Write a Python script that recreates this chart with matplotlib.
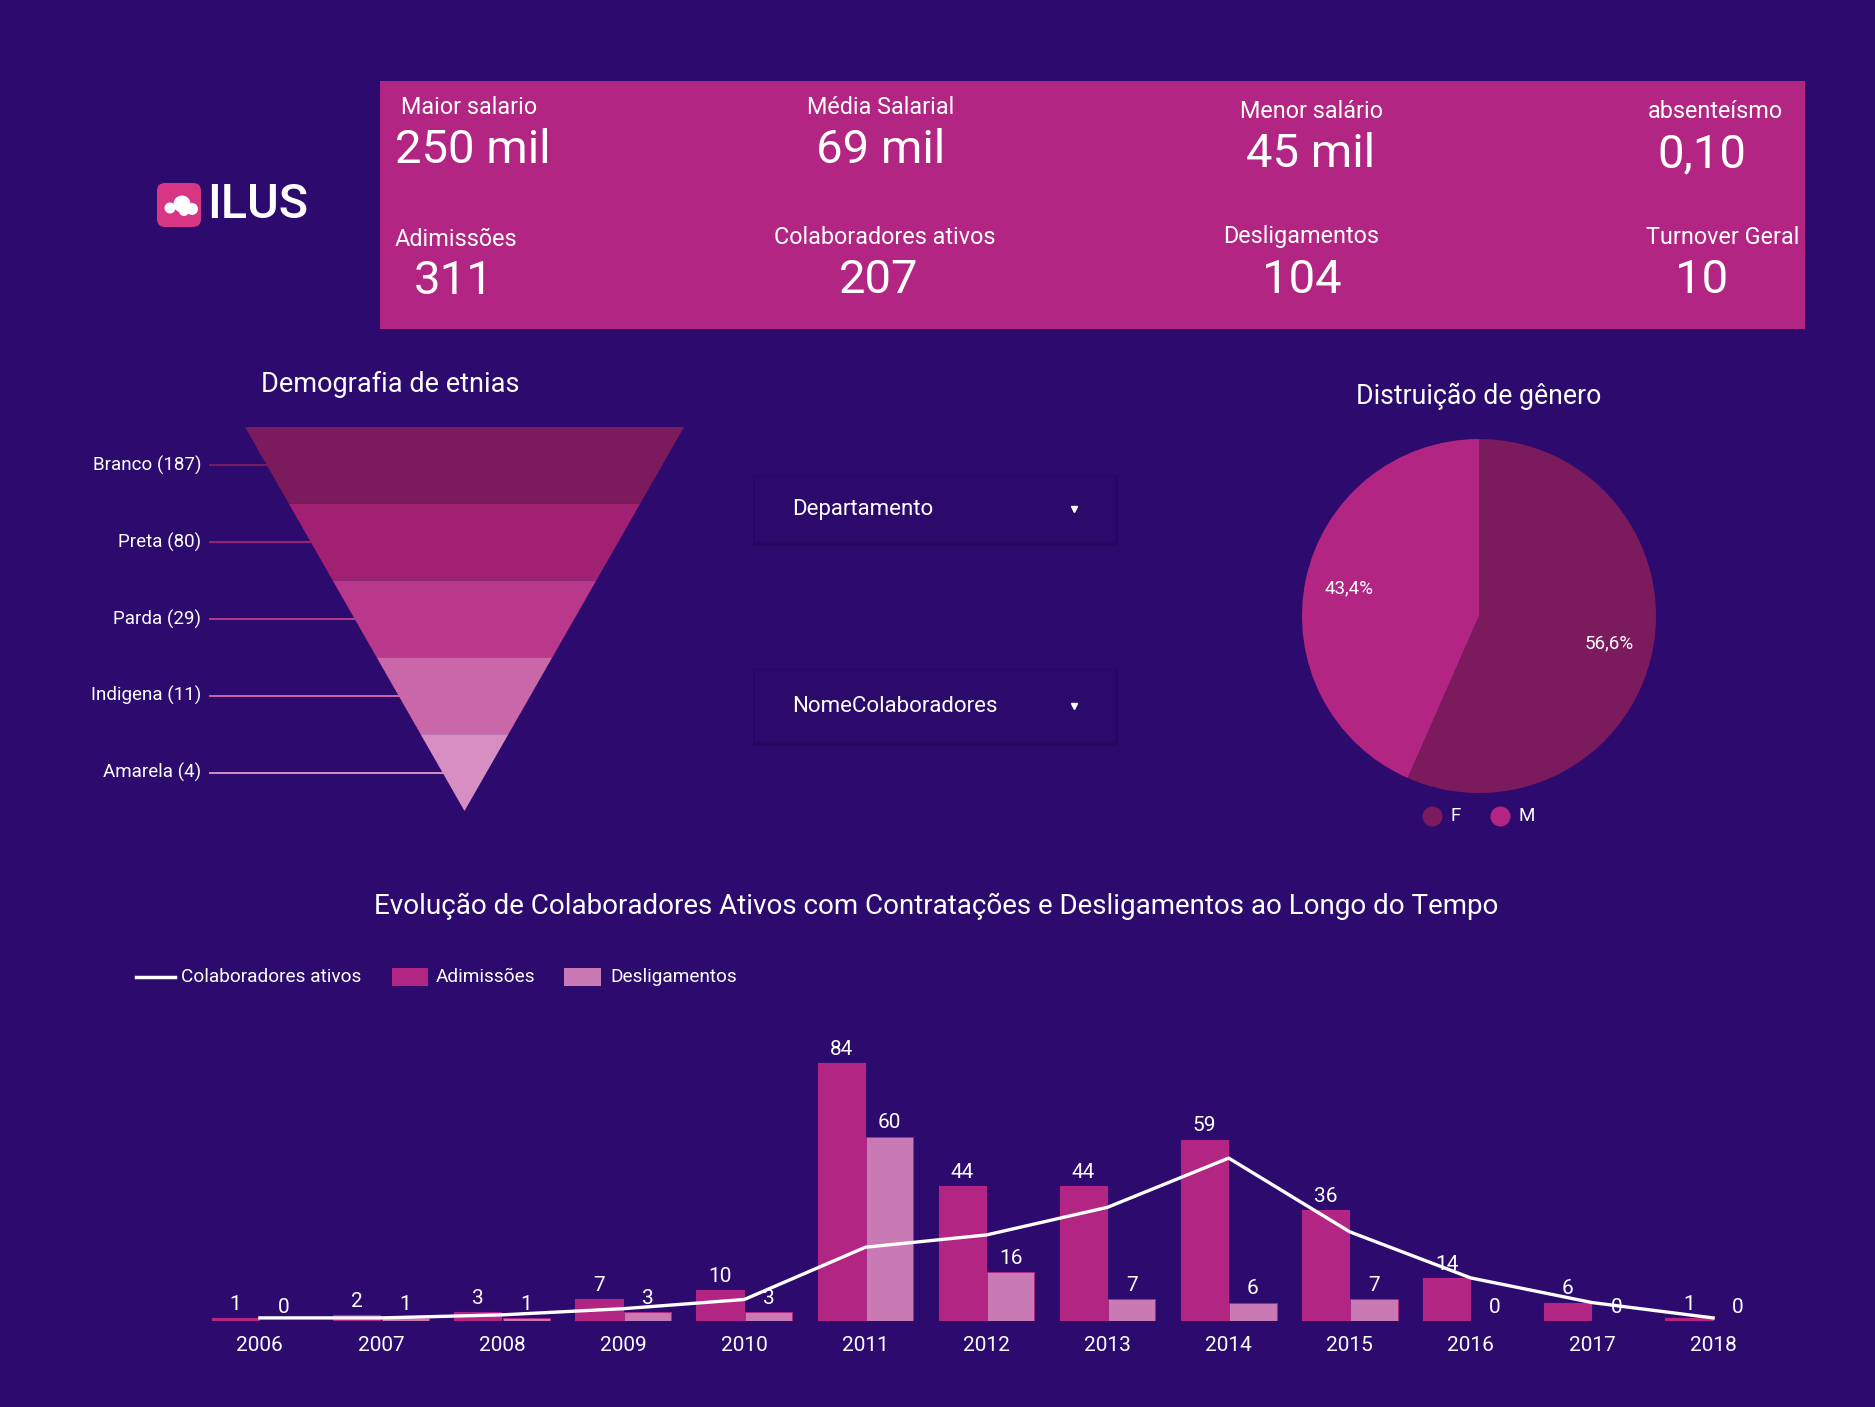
import matplotlib

matplotlib.use("Agg")
import matplotlib.pyplot as plt
from matplotlib.patches import FancyBboxPatch, Rectangle, Polygon, Circle

plt.rcParams["font.family"] = ["Roboto", "DejaVu Sans"]

W, H = 1875, 1407
BG = "#2d0b6e"
KPI_BG = "#b22582"
WHITE = "#ffffff"

# KPI cards
kpi_labels = ["Maior salario", "Média Salarial", "Menor salário", "absenteísmo",
              "Adimissões", "Colaboradores ativos", "Desligamentos", "Turnover Geral"]
kpi_values = ["250 mil", "69 mil", "45 mil", "0,10", "311", "207", "104", "10"]

# ethnic funnel
etnias = ["Branco", "Preta", "Parda", "Indigena", "Amarela"]
etnias_n = [187, 80, 29, 11, 4]
funnel_colors = ["#7b1a5c", "#a02072", "#b8388c", "#c967a8", "#d68ec3"]

# gender pie
generos = ["F", "M"]
genero_pct = [56.6, 43.4]
pie_colors = ["#7b1a5c", "#b32583"]

# filters
filtros = ["Departamento", "NomeColaboradores"]

# yearly evolution
anos = [2006, 2007, 2008, 2009, 2010, 2011, 2012, 2013, 2014, 2015, 2016, 2017, 2018]
admissoes = [1, 2, 3, 7, 10, 84, 44, 44, 59, 36, 14, 6, 1]
desligamentos = [0, 1, 1, 3, 3, 60, 16, 7, 6, 7, 0, 0, 0]
ativos = [1, 1, 2, 4, 7, 24, 28, 37, 53, 29, 14, 6, 1]
ADM_C = "#b32583"
DES_C = "#c97ab5"


def rect(x0, y0, x1, y1):
    """pixel box (top-left origin) -> figure fraction rect"""
    return [x0 / W, 1 - y1 / H, (x1 - x0) / W, (y1 - y0) / H]


fig = plt.figure(figsize=(W / 100, H / 100), dpi=100, facecolor=BG)
ax0 = fig.add_axes([0, 0, 1, 1])
ax0.set_xlim(0, W)
ax0.set_ylim(H, 0)
ax0.axis("off")
ax0.set_facecolor(BG)

# logo
ax0.add_patch(FancyBboxPatch((157, 183), 44, 44, boxstyle="round,pad=0,rounding_size=8",
                             fc="#d83584", ec="none"))
for cx, cy, r in [(170, 208, 5.5), (182, 204, 8.5), (192, 209, 6), (184, 211, 5)]:
    ax0.add_patch(Circle((cx, cy), r, fc=WHITE, ec="none"))
ax0.text(207, 205, "ILUS", color=WHITE, fontsize=35, fontweight="medium", va="center",
         ha="left")

# KPI panel
ax0.add_patch(Rectangle((380, 81), 1425, 248, fc=KPI_BG, ec="none"))
label_pos = [(401, 108, "left"), (881, 108, "center"), (1311, 112, "center"),
             (1715, 112, "center"), (395, 239, "left"), (885, 237, "center"),
             (1301, 237, "center"), (1723, 237, "center")]
value_pos = [(395, 150, "left"), (881, 150, "center"), (1311, 154, "center"),
             (1702, 154, "center"), (454, 281, "center"), (879, 280, "center"),
             (1302, 280, "center"), (1702, 280, "center")]
for lab, val, (lx, ly, lha), (vx, vy, vha) in zip(kpi_labels, kpi_values, label_pos,
                                                  value_pos):
    ax0.text(lx, ly, lab, color=WHITE, fontsize=16.8, ha=lha, va="center")
    ax0.text(vx, vy, val, color=WHITE, fontsize=34, ha=vha, va="center")

# funnel
ax0.text(390, 384, "Demografia de etnias", color=WHITE, fontsize=19.5, ha="center",
         va="center")
axf = fig.add_axes(rect(245, 427, 684, 811))
axf.set_xlim(-1, 1)
axf.set_ylim(len(etnias), 0)
axf.axis("off")
n = len(etnias)
for i, (name, cnt, col) in enumerate(zip(etnias, etnias_n, funnel_colors)):
    top, bot = 1 - i / n, 1 - (i + 1) / n
    axf.add_patch(Polygon([(-top, i), (top, i), (bot, i + 1), (-bot, i + 1)], closed=True,
                          fc=col, ec="none"))
    mid = -(1 - (i + 0.5) / n)
    axf.plot([-1.16, mid], [i + 0.5, i + 0.5], color=col, lw=1.4, clip_on=False)
    axf.text(-1.2, i + 0.5, f"{name} ({cnt})", color=WHITE, fontsize=13.5, ha="right",
             va="center", clip_on=False)

# filter controls
for name, (y0, y1) in zip(filtros, [(476, 542), (670, 742)]):
    ax0.add_patch(Rectangle((753, y0 - 1), 365, y1 - y0 + 5, fc="#1e0652", ec="none",
                            alpha=0.45))
    ax0.add_patch(Rectangle((755, y0), 360, y1 - y0, fc="#2c0a6b", ec="none"))
    ax0.text(792, (y0 + y1) / 2, name, color=WHITE, fontsize=16, ha="left", va="center")
    ax0.plot([1074], [(y0 + y1) / 2], marker="v", ms=5, color=WHITE, ls="")

# gender pie
ax0.text(1479, 396, "Distruição de gênero", color=WHITE, fontsize=19.2, ha="center",
         va="center")
axp = fig.add_axes(rect(1302, 439, 1656, 793))
axp.pie(genero_pct, colors=pie_colors, startangle=90, counterclock=False,
        autopct=lambda p: f"{p:.1f}%".replace(".", ","), pctdistance=0.75,
        textprops=dict(color=WHITE, fontsize=13.5), wedgeprops=dict(linewidth=0))
axp.set_xlim(-1, 1)
axp.set_ylim(-1, 1)
axp.set_aspect("equal")
for g, col, x in zip(generos, pie_colors, [1432, 1500]):
    ax0.scatter([x], [816], s=180, color=col, zorder=5)
    ax0.text(x + 18, 816, g, color=WHITE, fontsize=13.5, ha="left", va="center")

# evolution chart
ax0.text(936, 906, "Evolução de Colaboradores Ativos com Contratações e Desligamentos ao "
         "Longo do Tempo", color=WHITE, fontsize=20, ha="center", va="center")
ax0.plot([136, 175], [977, 977], color=WHITE, lw=2.5)
ax0.text(181, 977, "Colaboradores ativos", color=WHITE, fontsize=13.7, va="center")
ax0.add_patch(Rectangle((392, 968), 36, 18, fc=ADM_C, ec="none"))
ax0.text(436, 977, "Adimissões", color=WHITE, fontsize=13.7, va="center")
ax0.add_patch(Rectangle((564, 968), 37, 18, fc=DES_C, ec="none"))
ax0.text(610, 977, "Desligamentos", color=WHITE, fontsize=13.7, va="center")

axb = fig.add_axes(rect(209, 1029, 1764, 1321))
axb.set_facecolor("none")
x = list(range(len(anos)))
bw = 0.39
b1 = axb.bar([i - 0.2 for i in x], admissoes, bw, color=ADM_C, edgecolor=ADM_C, lw=0.8)
b2 = axb.bar([i + 0.2 for i in x], desligamentos, bw, color=DES_C, edgecolor=ADM_C,
             lw=0.6)
axb.plot(x, ativos, color=WHITE, lw=2.4, zorder=4)
for bars, vals in [(b1, admissoes), (b2, desligamentos)]:
    for b, v in zip(bars, vals):
        axb.annotate(str(v), (b.get_x() + b.get_width() / 2, v), xytext=(0, 3),
                     textcoords="offset points", ha="center", va="bottom", color=WHITE,
                     fontsize=15, zorder=5)
axb.set_xlim(-0.42, 12.42)
axb.set_ylim(0, 95)
axb.set_xticks(x)
axb.set_xticklabels([str(a) for a in anos], color=WHITE, fontsize=15)
axb.tick_params(axis="x", length=0, pad=11)
axb.set_yticks([])
for s in axb.spines.values():
    s.set_visible(False)

fig.savefig("out.png", dpi=100, facecolor=BG)
